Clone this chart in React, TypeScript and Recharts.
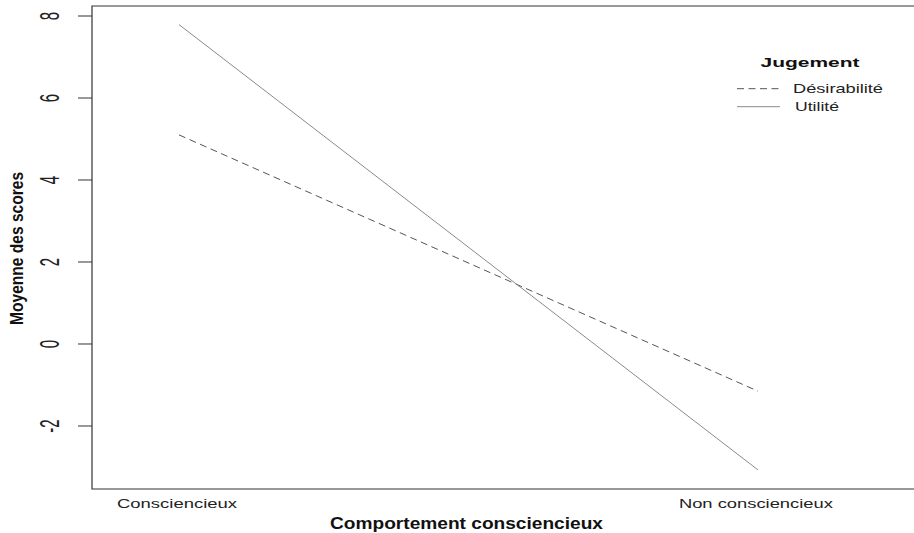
import React from 'react';
import { LineChart, Line, XAxis, YAxis, ReferenceArea, Legend } from 'recharts';

const categories = ['Consciencieux', 'Non consciencieux'];
const desirabilite = [5.1, -1.15];
const utilite = [7.79, -3.07];
const yTicks = [-2, 0, 2, 4, 6, 8];
const seriesNames = { desirabilite: 'Désirabilité', utilite: 'Utilité' };
const legendTitle = 'Jugement';
const xTitle = 'Comportement consciencieux';
const yTitle = 'Moyenne des scores';

const data = categories.map((c, i) => ({
  pos: i + 1,
  name: c,
  desirabilite: desirabilite[i],
  utilite: utilite[i],
}));

const X_DOMAIN: [number, number] = [0.8497, 2.28];
const Y_DOMAIN: [number, number] = [-3.537, 8.244];
const FONT = '"Liberation Sans", Arial, Helvetica, sans-serif';

const xLabelWidth: Record<string, number> = { Consciencieux: 120, 'Non consciencieux': 154 };
const legendItemStyle: Record<string, { dash?: string; color: string; width: number }> = {
  desirabilite: { dash: '7 4.5', color: '#555', width: 90 },
  utilite: { color: '#8a8a8a', width: 44 },
};

const YTick = (props: any) => {
  const { y, payload } = props;
  return (
    <g transform={`translate(59, ${y}) scale(1.8, 1) rotate(-90)`}>
      <text x={0} y={0} textAnchor="middle" fontSize={15} fontFamily={FONT} fill="#222">
        {payload.value}
      </text>
    </g>
  );
};

const XTick = (props: any) => {
  const { x, payload } = props;
  const label = categories[Math.round(payload.value) - 1] ?? '';
  return (
    <text
      x={x - 2}
      y={508}
      textAnchor="middle"
      fontSize={13}
      fontFamily={FONT}
      fill="#222"
      textLength={xLabelWidth[label]}
      lengthAdjust="spacingAndGlyphs"
    >
      {label}
    </text>
  );
};

const LegendContent = (props: any) => {
  const payload = props.payload || [];
  return (
    <svg width={180} height={80} style={{ display: 'block' }}>
      <text
        x={90}
        y={27}
        textAnchor="middle"
        fontSize={12}
        fontWeight="bold"
        fontFamily={FONT}
        fill="#111"
        textLength={99}
        lengthAdjust="spacingAndGlyphs"
      >
        {legendTitle}
      </text>
      {payload.map((entry: any, i: number) => {
        const key = String(entry.dataKey);
        const st = legendItemStyle[key];
        const ly = 48.7 + i * 18;
        return (
          <g key={key}>
            <line x1={17} x2={60} y1={ly} y2={ly} stroke={st.color} strokeWidth={1} strokeDasharray={st.dash} />
            <text
              x={73 + i * 2}
              y={ly + 4}
              fontSize={13}
              fontFamily={FONT}
              fill="#222"
              textLength={st.width}
              lengthAdjust="spacingAndGlyphs"
            >
              {entry.value}
            </text>
          </g>
        );
      })}
    </svg>
  );
};

export default function App() {
  return (
    <div
      style={{
        position: 'absolute',
        left: 0,
        top: 0,
        width: 914,
        height: 533,
        overflow: 'hidden',
        background: '#fff',
      }}
    >
      <LineChart width={930} height={533} data={data} margin={{ top: 6, right: 10, bottom: 0, left: 0 }}>
        <XAxis
          dataKey="pos"
          type="number"
          domain={X_DOMAIN}
          allowDataOverflow
          ticks={[1, 2]}
          interval={0}
          height={44}
          axisLine={false}
          tickLine={false}
          tick={<XTick />}
          label={{
            content: () => (
              <text
                x={466.5}
                y={529}
                textAnchor="middle"
                fontSize={17}
                fontWeight="bold"
                fontFamily={FONT}
                fill="#111"
                textLength={273}
                lengthAdjust="spacingAndGlyphs"
              >
                {xTitle}
              </text>
            ),
          }}
        />
        <YAxis
          type="number"
          domain={Y_DOMAIN}
          allowDataOverflow
          ticks={yTicks}
          interval={0}
          width={92}
          tickSize={14}
          axisLine={false}
          tickLine={{ stroke: '#333', strokeWidth: 1 }}
          tick={<YTick />}
          label={{
            content: () => (
              <g transform="translate(22.8, 248.4) scale(1.17, 1) rotate(-90)">
                <text
                  x={0}
                  y={0}
                  textAnchor="middle"
                  fontSize={16}
                  fontWeight="bold"
                  fontFamily={FONT}
                  fill="#111"
                  textLength={153}
                  lengthAdjust="spacingAndGlyphs"
                >
                  {yTitle}
                </text>
              </g>
            ),
          }}
        />
        <ReferenceArea
          x1={X_DOMAIN[0]}
          x2={X_DOMAIN[1]}
          y1={Y_DOMAIN[0]}
          y2={Y_DOMAIN[1]}
          fill="none"
          fillOpacity={0}
          stroke="#333"
          strokeWidth={1.2}
          ifOverflow="visible"
        />
        <Line
          type="linear"
          dataKey="desirabilite"
          name={seriesNames.desirabilite}
          stroke="#555"
          strokeWidth={1}
          strokeDasharray="7 4.5"
          dot={false}
          activeDot={false}
          isAnimationActive={false}
        />
        <Line
          type="linear"
          dataKey="utilite"
          name={seriesNames.utilite}
          stroke="#8a8a8a"
          strokeWidth={1}
          dot={false}
          activeDot={false}
          isAnimationActive={false}
        />
        <Legend
          layout="horizontal"
          verticalAlign="middle"
          align="center"
          content={<LegendContent />}
          wrapperStyle={{ left: 720, top: 40, width: 180, height: 80 }}
        />
      </LineChart>
    </div>
  );
}
